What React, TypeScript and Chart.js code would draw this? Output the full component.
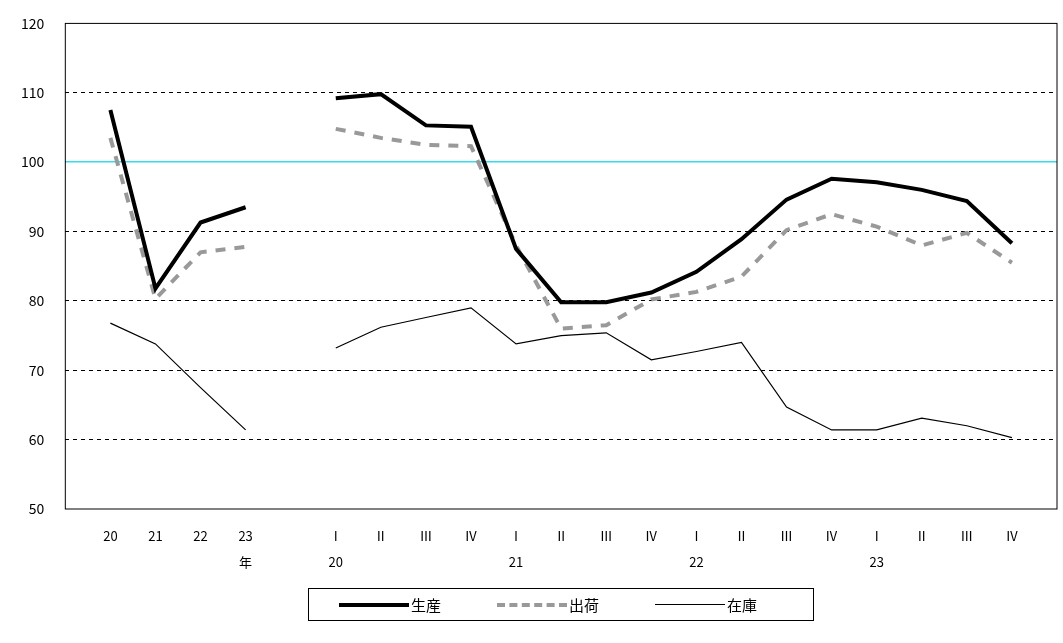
import React, { useEffect, useRef } from "react";
import Chart from "chart.js/auto";

const labels: (string | string[])[] = [
  "", "20", "21", "22", ["23", "年"], "",
  ["Ⅰ", "20"], "Ⅱ", "Ⅲ", "Ⅳ", ["Ⅰ", "21"], "Ⅱ", "Ⅲ", "Ⅳ",
  ["Ⅰ", "22"], "Ⅱ", "Ⅲ", "Ⅳ", ["Ⅰ", "23"], "Ⅱ", "Ⅲ", "Ⅳ", "",
];
const production = [null, 107.5, 81.8, 91.3, 93.5, null,
  109.2, 109.8, 105.3, 105.1, 87.5, 79.8, 79.8, 81.2, 84.2, 88.9, 94.6, 97.6, 97.1, 96.0, 94.4, 88.3, null];
const shipment = [null, 103.5, 80.3, 87.0, 87.8, null,
  104.8, 103.5, 102.5, 102.3, 88.0, 76.0, 76.5, 80.2, 81.3, 83.5, 90.2, 92.5, 90.7, 88.0, 89.8, 85.5, null];
const inventory = [null, 76.8, 73.8, 67.5, 61.4, null,
  73.2, 76.2, 77.6, 79.0, 73.8, 75.0, 75.4, 71.5, 72.7, 74.0, 64.7, 61.4, 61.4, 63.1, 62.0, 60.3, null];

const font = "'Noto Sans CJK JP', 'DejaVu Sans', sans-serif";

const frame = {
  id: "frame",
  afterDraw(chart: any) {
    const { ctx, chartArea: a } = chart;
    ctx.save();
    ctx.strokeStyle = "#000";
    ctx.lineWidth = 1;
    ctx.strokeRect(a.left, a.top, a.right - a.left, a.bottom - a.top);
    ctx.restore();
  },
};

const App: React.FC = () => {
  const ref = useRef<HTMLCanvasElement | null>(null);
  const inst = useRef<Chart | null>(null);

  useEffect(() => {
    if (!ref.current) return;
    if (inst.current) inst.current.destroy();
    inst.current = new Chart(ref.current, {
      type: "line",
      data: {
        labels,
        datasets: [
          { label: "生産", data: production, borderColor: "#000", borderWidth: 4, pointRadius: 0, spanGaps: false },
          { label: "出荷", data: shipment, borderColor: "#999", borderWidth: 4, borderDash: [10, 9], pointRadius: 0, spanGaps: false },
          { label: "在庫", data: inventory, borderColor: "#000", borderWidth: 1.2, pointRadius: 0, spanGaps: false },
        ],
      },
      options: {
        animation: false,
        responsive: false,
        layout: { padding: { top: -4, right: 0, left: 0, bottom: 62 } },
        plugins: { legend: { display: false }, tooltip: { enabled: false } },
        scales: {
          x: {
            offset: false,
            grid: { display: false },
            border: { display: false },
            ticks: { color: "#000", font: { family: font, size: 13, lineHeight: 2 }, maxRotation: 0, autoSkip: false, padding: 6 },
          },
          y: {
            min: 50, max: 120,
            grid: {
              color: (c: any) => (c.tick.value === 100 ? "#33ddee" : c.tick.value === 50 || c.tick.value === 120 ? "rgba(0,0,0,0)" : "#000"),
              lineWidth: (c: any) => (c.tick.value === 100 ? 1.5 : 1),
              drawTicks: false,
            },
            border: { display: false, dash: (c: any) => (c.tick.value === 100 ? [] : [4, 4]) } as any,
            ticks: { stepSize: 10, color: "#000", font: { family: font, size: 14 }, padding: 21 },
          },
        },
      } as any,
      plugins: [frame],
    });
    return () => {
      inst.current?.destroy();
      inst.current = null;
    };
  }, []);

  const item = (text: string, sample: React.ReactNode) => (
    <div style={{ display: "flex", alignItems: "center", width: 168 }}>
      {sample}
      <span style={{ fontSize: 15, marginLeft: 2 }}>{text}</span>
    </div>
  );

  return (
    <div style={{ position: "absolute", left: 0, top: 0, width: 1063, height: 643, background: "#fff", fontFamily: font, overflow: "hidden" }}>
      <canvas ref={ref} width={1063} height={649} style={{ position: "absolute", left: 0, top: -6 }} />
      <div style={{ position: "absolute", left: 308, top: 588, width: 506, height: 33, border: "1px solid #000", boxSizing: "border-box", display: "flex", alignItems: "center", paddingLeft: 30 }}>
        {item("生産", <div style={{ width: 70, height: 4, background: "#000" }} />)}
        {item("出荷", <div style={{ width: 70, height: 0, borderTop: "4px dashed #999" }} />)}
        {item("在庫", <div style={{ width: 70, height: 1, background: "#000" }} />)}
      </div>
    </div>
  );
};

export default App;
